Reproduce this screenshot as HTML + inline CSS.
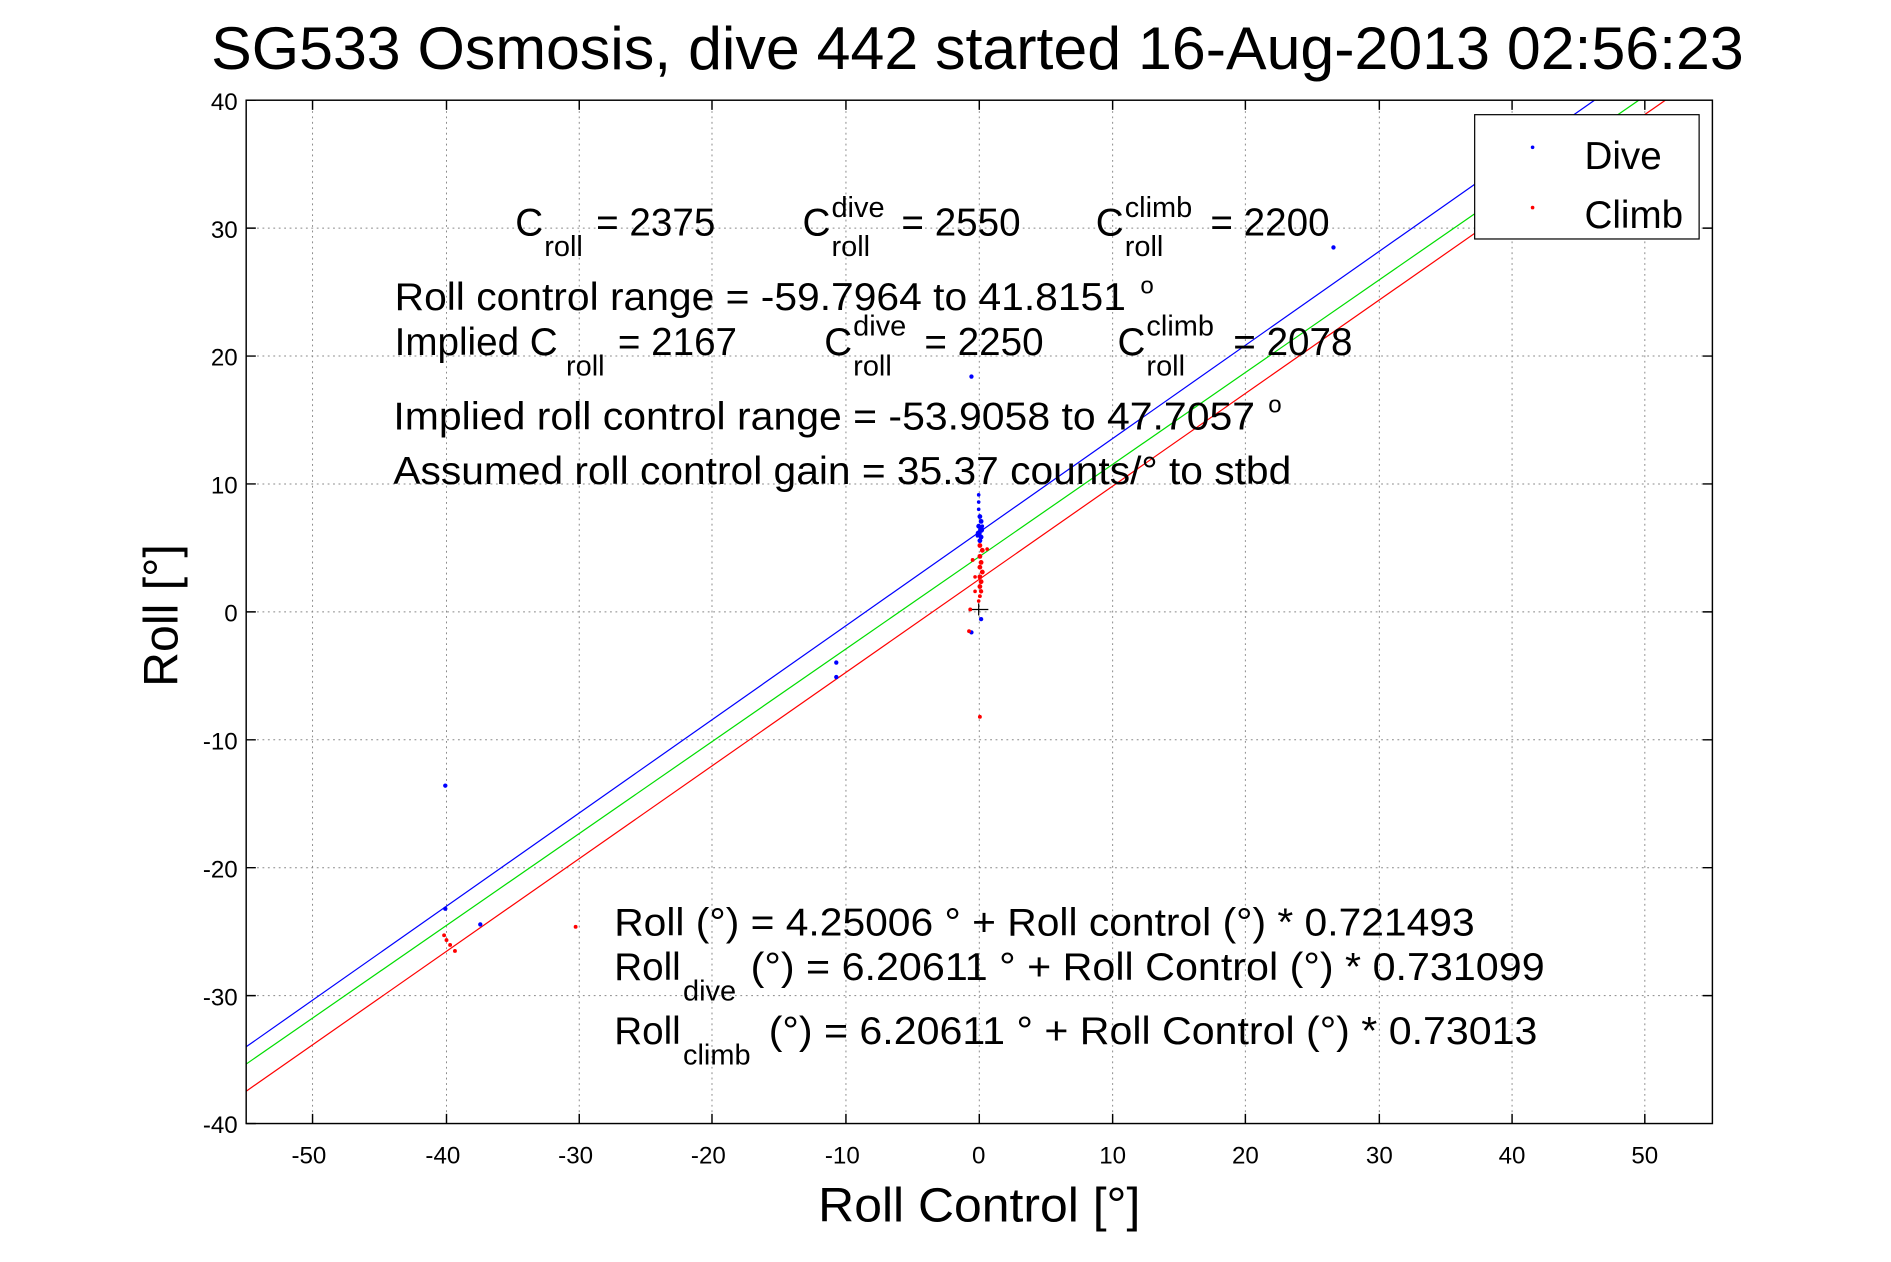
<!DOCTYPE html>
<html><head><meta charset="utf-8"><style>html,body{margin:0;padding:0;background:#fff}svg{display:block}</style></head>
<body>
<svg width="1891" height="1262" viewBox="0 0 1567 1045.7" xmlns="http://www.w3.org/2000/svg" font-family="Liberation Sans, sans-serif">
<rect width="1567" height="1046" fill="#fff"/>
<defs><clipPath id="c"><rect x="204" y="83" width="1215" height="848"/></clipPath></defs>
<g stroke="#888" stroke-width="0.8" stroke-dasharray="1.5,3">
<line x1="259" y1="83" x2="259" y2="931"/><line x1="370" y1="83" x2="370" y2="931"/><line x1="480" y1="83" x2="480" y2="931"/><line x1="590" y1="83" x2="590" y2="931"/><line x1="701" y1="83" x2="701" y2="931"/><line x1="811.5" y1="83" x2="811.5" y2="931"/><line x1="922" y1="83" x2="922" y2="931"/><line x1="1032" y1="83" x2="1032" y2="931"/><line x1="1143" y1="83" x2="1143" y2="931"/><line x1="1253" y1="83" x2="1253" y2="931"/><line x1="1363" y1="83" x2="1363" y2="931"/>
<line x1="204" y1="189" x2="1419" y2="189"/><line x1="204" y1="295" x2="1419" y2="295"/><line x1="204" y1="401" x2="1419" y2="401"/><line x1="204" y1="507" x2="1419" y2="507"/><line x1="204" y1="613" x2="1419" y2="613"/><line x1="204" y1="719" x2="1419" y2="719"/><line x1="204" y1="825" x2="1419" y2="825"/>
</g>
<g clip-path="url(#c)" stroke-width="1" fill="none">
<line x1="204" y1="867.4" x2="1321.3" y2="83" stroke="#00f"/>
<line x1="204" y1="881.7" x2="1358" y2="83" stroke="#0d0"/>
<line x1="204" y1="904.2" x2="1380" y2="83" stroke="#f00"/>
</g>
<g stroke="#000" stroke-width="1.2">
<rect x="204" y="83" width="1215" height="848" fill="none"/>
<path d="M259 931v-8M370 931v-8M480 931v-8M590 931v-8M701 931v-8M811.5 931v-8M922 931v-8M1032 931v-8M1143 931v-8M1253 931v-8M1363 931v-8M259 83v8M370 83v8M480 83v8M590 83v8M701 83v8M811.5 83v8M922 83v8M1032 83v8M1143 83v8M1253 83v8M1363 83v8"/>
<path d="M204 83h8M204 189h8M204 295h8M204 401h8M204 507h8M204 613h8M204 719h8M204 825h8M204 931h8M1419 189h-8M1419 295h-8M1419 401h-8M1419 507h-8M1419 613h-8M1419 719h-8M1419 825h-8"/>
<path d="M803 505h16M811 500v10" stroke-width="1"/>
</g>
<g fill="#00f">
<circle cx="805" cy="312" r="1.8"/><circle cx="1105" cy="205" r="1.8"/><circle cx="369" cy="651" r="1.8"/><circle cx="369" cy="753" r="1.8"/><circle cx="398" cy="766" r="1.8"/><circle cx="693" cy="549" r="1.8"/><circle cx="693" cy="561" r="1.8"/><circle cx="805" cy="524" r="1.8"/><circle cx="813" cy="513" r="1.8"/>
<circle cx="811" cy="410" r="1.5"/><circle cx="811" cy="416" r="1.5"/><circle cx="811" cy="422" r="1.5"/><circle cx="812" cy="428" r="2"/><circle cx="813" cy="432" r="2"/><circle cx="811" cy="436" r="2"/><circle cx="813" cy="439" r="2.5"/><circle cx="811" cy="442" r="2.5"/><circle cx="813" cy="445" r="2"/><circle cx="812" cy="448" r="2"/><circle cx="814" cy="436" r="1.5"/><circle cx="810" cy="444" r="1.5"/>
</g>
<g fill="#f00">
<circle cx="806" cy="464" r="1.6"/><circle cx="812" cy="594" r="1.6"/><circle cx="477" cy="768" r="1.6"/><circle cx="368" cy="775" r="1.6"/><circle cx="370" cy="779" r="1.6"/><circle cx="373" cy="783" r="1.6"/><circle cx="377" cy="788" r="1.6"/><circle cx="803" cy="523" r="1.6"/><circle cx="804" cy="505" r="1.6"/>
<circle cx="812" cy="452" r="2"/><circle cx="814" cy="456" r="2"/><circle cx="812" cy="461" r="2"/><circle cx="813" cy="466" r="2"/><circle cx="812" cy="470" r="2"/><circle cx="814" cy="474" r="2"/><circle cx="812" cy="478" r="2"/><circle cx="813" cy="482" r="2"/><circle cx="812" cy="486" r="2"/><circle cx="813" cy="490" r="1.8"/><circle cx="812" cy="494" r="1.6"/><circle cx="818" cy="455" r="1.5"/><circle cx="808" cy="478" r="1.5"/><circle cx="808" cy="490" r="1.5"/><circle cx="811" cy="498" r="1.5"/>
</g>
<g font-size="20" fill="#000">
<g text-anchor="end"><text x="197" y="91">40</text><text x="197" y="197">30</text><text x="197" y="303">20</text><text x="197" y="409">10</text><text x="197" y="515">0</text><text x="197" y="621">-10</text><text x="197" y="727">-20</text><text x="197" y="833">-30</text><text x="197" y="939">-40</text></g>
<g text-anchor="middle"><text x="256" y="964">-50</text><text x="367" y="964">-40</text><text x="477" y="964">-30</text><text x="587" y="964">-20</text><text x="698" y="964">-10</text><text x="811" y="964">0</text><text x="922" y="964">10</text><text x="1032" y="964">20</text><text x="1143" y="964">30</text><text x="1253" y="964">40</text><text x="1363" y="964">50</text></g>
</g>
<text x="175" y="57" font-size="50" textLength="1270" lengthAdjust="spacingAndGlyphs">SG533 Osmosis, dive 442 started 16-Aug-2013 02:56:23</text>
<text x="678" y="1012" font-size="40" textLength="267" lengthAdjust="spacingAndGlyphs">Roll Control [°]</text>
<text transform="translate(147,510) rotate(-90)" text-anchor="middle" font-size="40">Roll [°]</text>
<rect x="1222" y="95" width="186" height="103" fill="#fff" stroke="#000" stroke-width="1"/>
<circle cx="1270" cy="122" r="1.5" fill="#00f"/><circle cx="1270" cy="172" r="1.5" fill="#f00"/>
<text x="1313" y="140" font-size="32">Dive</text><text x="1313" y="189" font-size="32">Climb</text>
<g font-size="32" fill="#000">
<text x="427" y="195">C</text><text x="451" y="212" font-size="24">roll</text><text x="494" y="195">= 2375</text>
<text x="665" y="195">C</text><text x="689" y="180" font-size="24">dive</text><text x="689" y="212" font-size="24">roll</text><text x="747" y="195">= 2550</text>
<text x="908" y="195">C</text><text x="932" y="180" font-size="24">climb</text><text x="932" y="212" font-size="24">roll</text><text x="1003" y="195">= 2200</text>
<text x="327" y="257" textLength="606" lengthAdjust="spacingAndGlyphs">Roll control range = -59.7964 to 41.8151</text><text x="945" y="243" font-size="20">o</text>
<text x="327" y="294">Implied C</text><text x="469" y="311" font-size="24">roll</text><text x="512" y="294">= 2167</text>
<text x="683" y="294">C</text><text x="707" y="278" font-size="24">dive</text><text x="707" y="311" font-size="24">roll</text><text x="766" y="294">= 2250</text>
<text x="926" y="294">C</text><text x="950" y="278" font-size="24">climb</text><text x="950" y="311" font-size="24">roll</text><text x="1022" y="294">= 2078</text>
<text x="326" y="356" textLength="714" lengthAdjust="spacingAndGlyphs">Implied roll control range = -53.9058 to 47.7057</text><text x="1051" y="342" font-size="20">o</text>
<text x="326" y="401" textLength="744" lengthAdjust="spacingAndGlyphs">Assumed roll control gain = 35.37 counts/° to stbd</text>
<text x="509" y="775" textLength="713" lengthAdjust="spacingAndGlyphs">Roll (°) = 4.25006 ° + Roll control (°) * 0.721493</text>
<text x="509" y="812">Roll</text><text x="566" y="829" font-size="24">dive</text><text x="622" y="812" textLength="658" lengthAdjust="spacingAndGlyphs">(°) = 6.20611 ° + Roll Control (°) * 0.731099</text>
<text x="509" y="865">Roll</text><text x="566" y="882" font-size="24">climb</text><text x="637" y="865" textLength="637" lengthAdjust="spacingAndGlyphs">(°) = 6.20611 ° + Roll Control (°) * 0.73013</text>
</g>
</svg>
</body></html>
